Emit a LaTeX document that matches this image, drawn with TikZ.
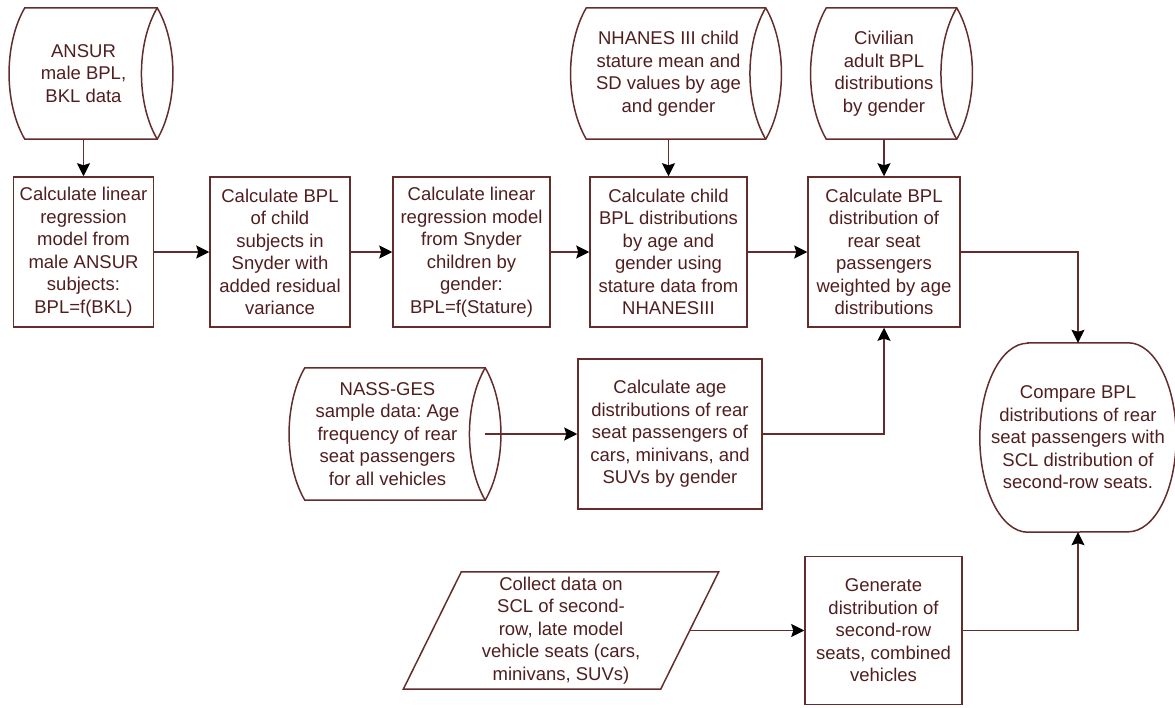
\documentclass[tikz,border=0pt]{standalone}
\usepackage{fontspec}
\setmainfont{Liberation Sans}
\usetikzlibrary{arrows.meta}
\frenchspacing
\definecolor{boxline}{RGB}{100,45,45}
\definecolor{boxtext}{RGB}{80,30,30}
\newcommand{\storeshape}[1]{%
  \draw[shapeline] (#1.north west) -- ([xshift=15]#1.north east)
    .. controls +(21,36) and +(21,-36) .. ([xshift=15]#1.south east)
    -- (#1.south west) .. controls +(-21,-36) and +(-21,36) .. cycle;
  \draw[shapeline] ([xshift=15]#1.south east)
    .. controls +(-21,-36) and +(-21,36) .. ([xshift=15]#1.north east);}
\newcommand{\termshape}[1]{%
  \draw[shapeline] ([xshift=48]#1.north west) -- ([xshift=-48]#1.north east)
    arc[start angle=90,end angle=-90,x radius=48pt,y radius=94.5pt]
    -- ([xshift=48]#1.south west)
    arc[start angle=270,end angle=90,x radius=48pt,y radius=94.5pt] -- cycle;}

\begin{document}
\begin{tikzpicture}[x=1pt,y=-1pt,
  font=\fontsize{18.5}{22.5}\selectfont,
  shapeline/.style={draw=boxline,line width=1.5pt},
  procbox/.style={draw=boxline,line width=1.5pt,text=boxtext,align=center,inner sep=2pt,minimum height=150pt},
  storetext/.style={text=boxtext,align=center,inner sep=0pt,minimum height=131pt},
  flow/.style={boxline,line width=1.5pt,-{Stealth[length=13pt,width=13pt,inset=2pt,color=black]}}]
\useasboundingbox (0,0) rectangle (1175,707);

% data sources
\node[storetext,minimum width=117pt] (ansur) at (83.5,73.5) {ANSUR\\male BPL,\\BKL data};
\node[storetext,minimum width=164pt] (nhanes) at (668.5,73.5) {NHANES III child\\stature mean and\\SD values by age\\and gender};
\node[storetext,minimum width=115pt] (civil) at (884,73.5) {Civilian\\adult BPL\\distributions\\by gender};
\node[storetext,minimum width=165pt,minimum height=132pt] (nass) at (387.5,434) {NASS-GES\\sample data: Age\\frequency of rear\\seat passengers\\for all vehicles};
\storeshape{ansur}
\storeshape{nhanes}
\storeshape{civil}
\storeshape{nass}

% process steps
\node[procbox,minimum width=140pt] (calcreg) at (83.5,252) {Calculate linear\\regression\\model from\\male ANSUR\\subjects:\\BPL=f(BKL)};
\node[procbox,minimum width=140pt] (childbpl) at (280,252) {Calculate BPL\\of child\\subjects in\\Snyder with\\added residual\\variance};
\node[procbox,minimum width=157pt] (snyder) at (471.5,252) {Calculate linear\\regression model\\from Snyder\\children by\\gender:\\BPL=f(Stature)};
\node[procbox,minimum width=157pt] (childdist) at (668.5,252) {Calculate child\\BPL distributions\\by age and\\gender using\\stature data from\\NHANESIII};
\node[procbox,minimum width=152pt] (rearbpl) at (884,252) {Calculate BPL\\distribution of\\rear seat\\passengers\\weighted by age\\distributions};
\node[procbox,minimum width=184pt] (agedist) at (670,434) {Calculate age\\distributions of rear\\seat passengers of\\cars, minivans, and\\SUVs by gender};
\node[procbox,minimum width=157pt,minimum height=148pt] (gendist) at (883.5,630.5) {Generate\\distribution of\\second-row\\seats, combined\\vehicles};

% input and result
\node[storetext,minimum width=257pt,minimum height=117pt] (collect) at (561,630.5) {Collect data on\\SCL of second-\\row, late model\\vehicle seats (cars,\\minivans, SUVs)};
\draw[shapeline] ([xshift=29]collect.north west) -- ([xshift=29]collect.north east)
  -- ([xshift=-29]collect.south east) -- ([xshift=-29]collect.south west) -- cycle;
\node[storetext,minimum width=196pt,minimum height=189pt] (compare) at (1078,437.5) {Compare BPL\\distributions of rear\\seat passengers with\\SCL distribution of\\second-row seats.};
\termshape{compare}

\draw[flow] (ansur) -- (calcreg);
\draw[flow] (calcreg) -- (childbpl);
\draw[flow] (childbpl) -- (snyder);
\draw[flow] (snyder) -- (childdist);
\draw[flow] (childdist) -- (rearbpl);
\draw[flow] (nhanes) -- (childdist);
\draw[flow] (civil) -- (rearbpl);
\draw[flow] (rearbpl) -| (compare);
\draw[flow] ([xshift=15]nass.east) -- (agedist);
\draw[flow] (agedist) -| (rearbpl);
\draw[flow] (collect) -- (gendist);
\draw[flow] (gendist) -| (compare);
\end{tikzpicture}
\end{document}
